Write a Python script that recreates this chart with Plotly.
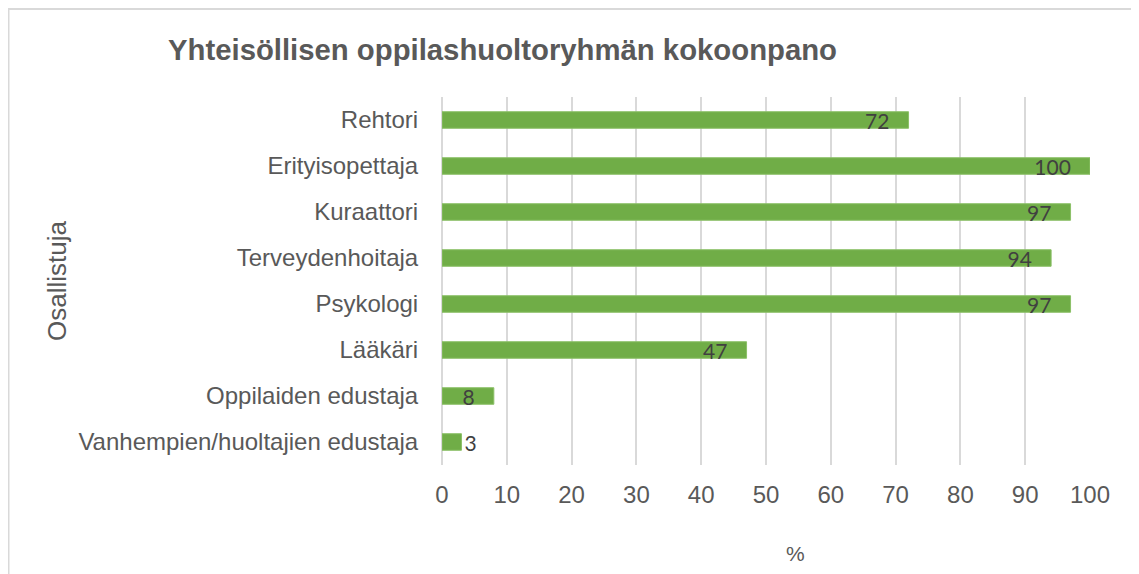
import plotly.graph_objects as go

categories = ["Rehtori", "Erityisopettaja", "Kuraattori", "Terveydenhoitaja",
              "Psykologi", "Lääkäri", "Oppilaiden edustaja",
              "Vanhempien/huoltajien edustaja"]
values = [72, 100, 97, 94, 97, 47, 8, 3]
x_ticks = [0, 10, 20, 30, 40, 50, 60, 70, 80, 90, 100]

# page body has an 8px offset; coordinates below are in figure pixels
OFF = 8
W, H = 1139 - OFF, 574 - OFF
L, R, T, B = 442 - OFF, 1090 - OFF, 97 - OFF, 465 - OFF
pw, ph = R - L, B - T

PAD = "\u00a0\u00a0\u00a0"
# labels that do not fit inside a short bar sit just past its end
fits = [v >= 5 for v in values]
labels = [str(v) + PAD if f else str(v) for v, f in zip(values, fits)]
positions = ["inside" if f else "outside" for f in fits]

fig = go.Figure(go.Bar(
    y=categories, x=values, orientation="h",
    marker=dict(color="#70ad47", line=dict(color="#8cc068", width=1)),
    width=0.36,
    text=labels,
    textposition=positions, insidetextanchor="end", constraintext="none",
    textangle=0,
    textfont=dict(family="Lato, Open Sans, sans-serif", size=21, color="#404040"),
    cliponaxis=False,
))

fig.update_layout(
    width=W, height=H,
    margin=dict(l=L, r=W - R, t=T, b=H - B, pad=0),
    paper_bgcolor="white", plot_bgcolor="white",
    showlegend=False,
    title=dict(text="<b>Yhteisöllisen oppilashuoltoryhmän kokoonpano</b>",
               x=(168 - OFF) / W, xanchor="left", xref="container",
               y=1 - (50 - OFF) / H, yanchor="middle", yref="container",
               font=dict(family="Liberation Sans, Arial, sans-serif", size=29.3, color="#595959")),
    font=dict(family="Liberation Sans, Arial, sans-serif", color="#595959"),
    bargap=0.64,
)
fig.update_xaxes(range=[0, 100], tickvals=x_ticks, showgrid=True,
                 gridcolor="#d9d9d9", gridwidth=2, zeroline=True,
                 zerolinecolor="#d9d9d9", zerolinewidth=2, showline=False,
                 tickfont=dict(size=24, color="#595959"),
                 ticks="outside", ticklen=8, tickcolor="rgba(0,0,0,0)")
fig.update_yaxes(autorange="reversed", showgrid=False, showline=False,
                 tickfont=dict(size=24, color="#595959"),
                 ticks="outside", ticklen=18, tickcolor="rgba(0,0,0,0)")

fig.add_shape(type="rect", xref="paper", yref="paper",
              x0=(0.5 - L) / pw, x1=(1160 - L) / pw,
              y0=-(600 - B) / ph, y1=1 + (T - 1) / ph,
              line=dict(color="#d9d9d9", width=2), fillcolor="rgba(0,0,0,0)", layer="below")

fig.add_annotation(text="Osallistuja", xref="paper", yref="paper",
                   x=(57 - OFF - L) / pw, y=0.5, textangle=-90, showarrow=False,
                   xanchor="center", yanchor="middle",
                   font=dict(size=26, color="#595959"))
fig.add_annotation(text="%", xref="paper", yref="paper",
                   x=(795 - OFF - L) / pw, y=-(553 - OFF - B) / ph, showarrow=False,
                   xanchor="center", yanchor="middle",
                   font=dict(size=21, color="#595959"))

fig.write_html("out.html")
